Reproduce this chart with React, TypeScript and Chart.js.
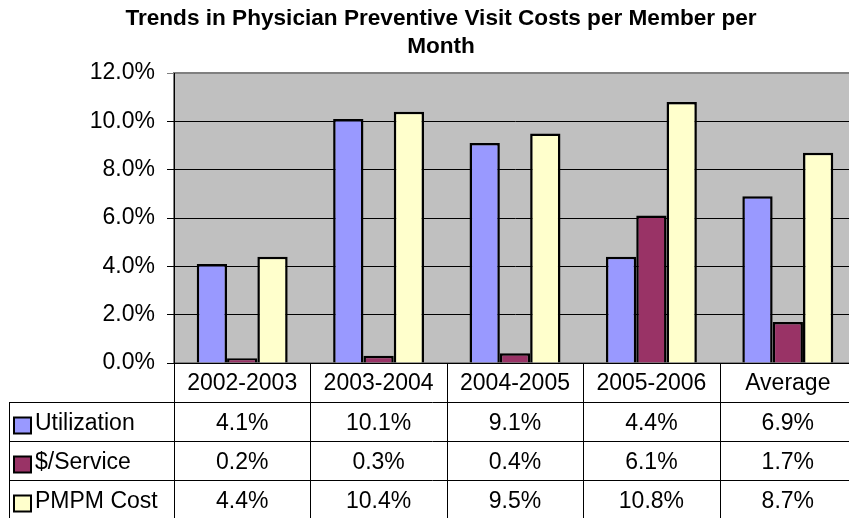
import React, { useEffect, useRef } from "react";
import { Chart, registerables } from "chart.js";

Chart.register(...registerables);

const titleLines = ["Trends in Physician Preventive Visit Costs per Member per", "Month"];
const categories = ["2002-2003", "2003-2004", "2004-2005", "2005-2006", "Average"];
const seriesNames = ["Utilization", "$/Service", "PMPM Cost"];
const utilization = [4.1, 10.1, 9.1, 4.4, 6.9];
const perService = [0.2, 0.3, 0.4, 6.1, 1.7];
const pmpmCost = [4.4, 10.4, 9.5, 10.8, 8.7];
const seriesColors = ["#9999FF", "#993366", "#FFFFCC"];
const yTicks = [0, 2, 4, 6, 8, 10, 12];

const FONT = '"Liberation Sans", Arial, sans-serif';
const W = 882;
const H = 530;

export default function App() {
  const ref = useRef<HTMLCanvasElement | null>(null);

  useEffect(() => {
    const canvas = ref.current;
    if (!canvas) return;
    const series = [utilization, perService, pmpmCost];

    const bgPlugin = {
      id: "plotBg",
      beforeDraw(chart: any) {
        const { ctx, chartArea: a } = chart;
        ctx.save();
        ctx.fillStyle = "#FFFFFF";
        ctx.fillRect(0, 0, chart.width, chart.height);
        ctx.fillStyle = "#C0C0C0";
        ctx.fillRect(a.left, a.top, a.right - a.left, a.bottom - a.top);
        ctx.strokeStyle = "#808080";
        ctx.lineWidth = 2;
        ctx.strokeRect(a.left, a.top, a.right - a.left, a.bottom - a.top);
        ctx.restore();
      },
    };

    const tablePlugin = {
      id: "dataTable",
      afterDraw(chart: any) {
        const { ctx, chartArea: a } = chart;
        const xs = chart.scales.x;
        const n = categories.length;
        const colW = (a.right - a.left) / n;
        const rowH = 39;
        const top = a.bottom;
        const tableLeft = 9;
        ctx.save();
        ctx.strokeStyle = "#000000";
        ctx.lineWidth = 1;
        ctx.beginPath();
        ctx.moveTo(a.left, top + 0.5);
        ctx.lineTo(a.right, top + 0.5);
        ctx.stroke();
        for (let r = 1; r <= 4; r++) {
          const y = Math.round(top + r * rowH) + 0.5;
          ctx.beginPath();
          ctx.moveTo(tableLeft, y);
          ctx.lineTo(a.right, y);
          ctx.stroke();
        }
        for (let c = 0; c <= n; c++) {
          const x = Math.round(a.left + c * colW) + 0.5;
          ctx.beginPath();
          ctx.moveTo(x, top);
          ctx.lineTo(x, top + 4 * rowH);
          ctx.stroke();
        }
        ctx.beginPath();
        ctx.moveTo(tableLeft + 0.5, top + rowH);
        ctx.lineTo(tableLeft + 0.5, top + 4 * rowH);
        ctx.stroke();

        ctx.fillStyle = "#000000";
        ctx.font = `23px ${FONT}`;
        ctx.textAlign = "center";
        ctx.textBaseline = "middle";
        categories.forEach((cat, i) => {
          const cx = xs.getPixelForValue(i);
          ctx.fillText(cat, cx, top + rowH / 2 + 1.5);
        });
        series.forEach((vals, s) => {
          const rowTop = top + (s + 1) * rowH;
          const cy = rowTop + rowH / 2 + 2;
          vals.forEach((v, i) => {
            const cx = xs.getPixelForValue(i);
            ctx.textAlign = "center";
            ctx.fillText(v.toFixed(1) + "%", cx, cy);
          });
          ctx.fillStyle = seriesColors[s];
          ctx.fillRect(14, rowTop + 15.5, 17, 16);
          ctx.strokeStyle = "#000000";
          ctx.lineWidth = 2;
          ctx.strokeRect(14, rowTop + 15.5, 17, 16);
          ctx.lineWidth = 1;
          ctx.fillStyle = "#000000";
          ctx.textAlign = "left";
          ctx.fillText(seriesNames[s], 35, cy);
        });
        ctx.restore();
      },
    };

    const titlePlugin = {
      id: "titleText",
      afterDraw(chart: any) {
        const { ctx } = chart;
        ctx.save();
        ctx.fillStyle = "#000000";
        ctx.font = `bold 22.6px ${FONT}`;
        ctx.textAlign = "center";
        ctx.textBaseline = "alphabetic";
        ctx.fillText(titleLines[0], chart.width / 2, 25);
        ctx.fillText(titleLines[1], chart.width / 2, 53);
        ctx.restore();
      },
    };

    const chart = new Chart(canvas, {
      type: "bar",
      data: {
        labels: categories,
        datasets: series.map((vals, s) => ({
          label: seriesNames[s],
          data: vals,
          backgroundColor: seriesColors[s],
          borderColor: "#000000",
          borderWidth: 2.5,
          categoryPercentage: 2 / 3,
          barPercentage: 1,
        })),
      },
      options: {
        animation: false,
        responsive: false,
        devicePixelRatio: 1,
        layout: { padding: { left: 0, top: 73, right: W - 856, bottom: H - 363 } },
        plugins: {
          legend: { display: false },
          title: { display: false },
          tooltip: { enabled: false },
        },
        scales: {
          x: { display: false },
          y: {
            min: 0,
            max: 12,
            afterFit(scale: any) {
              scale.width = 174;
            },
            afterBuildTicks(scale: any) {
              scale.ticks = yTicks.map((v) => ({ value: v }));
            },
            ticks: {
              color: "#000000",
              font: { family: FONT, size: 23 },
              padding: 12,
              callback: (v: any) => Number(v).toFixed(1) + "%",
            },
            grid: {
              color: (c: any) => (c.tick && c.tick.value === 12 ? "#808080" : "#000000"),
              lineWidth: 1,
              tickLength: 7,
              drawOnChartArea: true,
            },
            border: { display: true, color: "#000000", width: 1 },
          },
        },
      },
      plugins: [bgPlugin, tablePlugin, titlePlugin],
    });
    return () => chart.destroy();
  }, []);

  return (
    <div style={{ position: "fixed", left: 0, top: 0, width: 849, height: 518, overflow: "hidden", background: "#fff" }}>
      <canvas ref={ref} width={W} height={H} style={{ width: W, height: H, display: "block" }} />
    </div>
  );
}
